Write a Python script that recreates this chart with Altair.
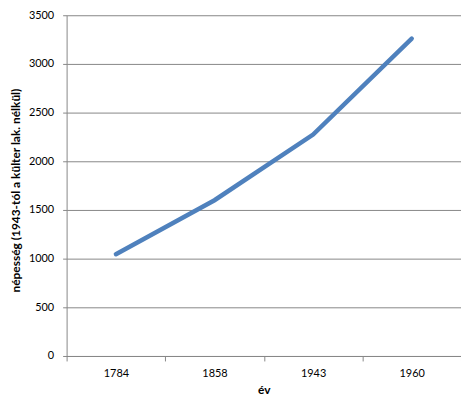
import altair as alt
import pandas as pd

years = ["1784", "1858", "1943", "1960"]
population = [1045, 1600, 2275, 3260]

df = pd.DataFrame({"ev": years, "nepesseg": population})

FONT = "Lato"
GRAY = "#878787"

chart = alt.Chart(df).mark_line(color="#4F81BD", strokeWidth=4.5, strokeCap="round").encode(
    x=alt.X(
        "ev:O",
        title="év",
        sort=years,
        scale=alt.Scale(type="band", paddingInner=0, paddingOuter=0),
        bandPosition=0.5,
        axis=alt.Axis(
            labelAngle=0,
            tickBand="extent",
            tickSize=5,
            labelPadding=7,
            titlePadding=6,
            grid=False,
        ),
    ),
    y=alt.Y(
        "nepesseg:Q",
        title="népesség (1943-tól a külter lak. nélkül)",
        scale=alt.Scale(domain=[0, 3500], nice=False),
        axis=alt.Axis(
            values=list(range(0, 3501, 500)),
            format="d",
            tickSize=4,
            labelPadding=9,
            titleX=-44,
            titleY=176,
            titleBaseline="bottom",
        ),
    ),
).properties(
    width=397,
    height=343,
    autosize=alt.AutoSizeParams(type="none"),
    padding={"left": 59, "top": 6, "right": 0, "bottom": 40},
).configure_view(
    stroke=None
).configure_axis(
    labelFont=FONT,
    titleFont=FONT,
    labelFontSize=11,
    titleFontSize=12,
    titleFontWeight="bold",
    labelColor="#000000",
    titleColor="#000000",
    domainColor=GRAY,
    tickColor=GRAY,
    gridColor=GRAY,
    gridOpacity=1,
    domainWidth=1,
    gridWidth=1,
)

chart.save("out.html", embed_options={"renderer": "svg", "actions": False})
